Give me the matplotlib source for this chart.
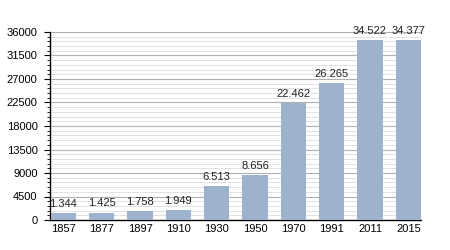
import matplotlib
matplotlib.use('Agg')
import matplotlib.pyplot as plt
from matplotlib.ticker import MultipleLocator

plt.rcParams['font.family'] = ['Liberation Sans', 'DejaVu Sans']

YEARS = ['1857', '1877', '1897', '1910', '1930', '1950', '1970', '1991', '2011', '2015']
POPULATION = [1344, 1425, 1758, 1949, 6513, 8656, 22462, 26265, 34522, 34377]
BAR_COLOR = '#9db3cd'


def fmt(v):
    return f'{v:,}'.replace(',', '.')


fig = plt.figure(figsize=(4.5, 2.5), dpi=100)
ax = fig.add_axes([50 / 450, 30 / 250, 371 / 450, 188 / 250])

x = list(range(len(YEARS)))
ax.bar(x, POPULATION, width=0.66, color=BAR_COLOR, zorder=3)
for xi, v in zip(x, POPULATION):
    ax.annotate(fmt(v), (xi, v), xytext=(0, 3), textcoords='offset points',
                ha='center', va='bottom', fontsize=8, color='#222222',
                annotation_clip=False)

ax.set_xlim(-0.35, len(YEARS) - 1 + 0.33)
ax.set_ylim(0, 36000)
ax.set_xticks(x)
ax.set_xticklabels(YEARS)
ax.yaxis.set_major_locator(MultipleLocator(4500))
ax.yaxis.set_minor_locator(MultipleLocator(900))
ax.tick_params(axis='x', length=0, labelsize=8, pad=3)
ax.tick_params(axis='y', which='major', length=4, labelsize=8, pad=5)
ax.tick_params(axis='y', which='minor', length=2)
ax.grid(axis='y', which='major', color='#b0b0b0', linewidth=0.8, zorder=0)
ax.grid(axis='y', which='minor', color='#e2e2e2', linewidth=0.7, zorder=0)
for s in ['top', 'right']:
    ax.spines[s].set_visible(False)
ax.spines['left'].set_linewidth(1)
ax.spines['bottom'].set_linewidth(1)

fig.savefig('out.png', dpi=100)
